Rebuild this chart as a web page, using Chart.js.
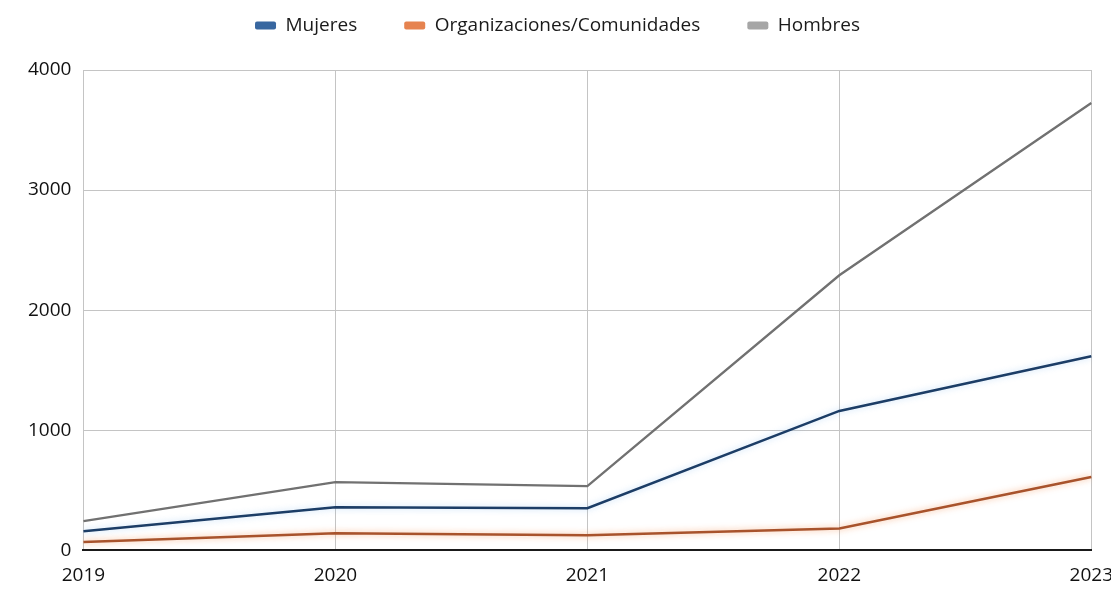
<!DOCTYPE html>
<html>
<head>
<meta charset="utf-8">
<script src="https://cdn.jsdelivr.net/npm/chart.js@4"></script>
<style>
  html, body { margin: 0; padding: 0; background: #fff; overflow: hidden; }
  #wrap { width: 1127px; height: 610px; }
</style>
</head>
<body>
<div id="wrap"><canvas id="lineChart"></canvas></div>
<script>
const years = ["2019", "2020", "2021", "2022", "2023"];
const mujeres = [158, 358, 350, 1160, 1615];
const organizaciones = [68, 142, 125, 180, 610];
const hombres = [243, 567, 533, 2290, 3725];
const yTicks = [0, 1000, 2000, 3000, 4000];

// soft halo under a line, colour per dataset
const lineGlow = {
  id: "lineGlow",
  beforeDatasetDraw(chart, args) {
    const glow = chart.data.datasets[args.index].glow;
    if (!glow) return;
    const ctx = chart.ctx;
    ctx.save();
    ctx.shadowColor = glow;
    ctx.shadowBlur = 6;
  },
  afterDatasetDraw(chart, args) {
    if (chart.data.datasets[args.index].glow) chart.ctx.restore();
  },
};

// extra room between the legend and the plot
const legendGap = {
  id: "legendGap",
  beforeInit(chart) {
    const fit = chart.legend.fit;
    chart.legend.fit = function () {
      fit.bind(chart.legend)();
      this.height += 25;
    };
  },
};

const ctx = document.getElementById("lineChart").getContext("2d");
new Chart(ctx, {
  type: "line",
  data: {
    labels: years,
    datasets: [
      {
        label: "Mujeres",
        data: mujeres,
        borderColor: "#1c3d66",
        backgroundColor: "#3867a0",
        borderWidth: 2.5,
        glow: "rgba(120, 180, 240, 0.45)",
      },
      {
        label: "Organizaciones/Comunidades",
        data: organizaciones,
        borderColor: "#a8532c",
        backgroundColor: "#e6834f",
        borderWidth: 2.5,
        glow: "rgba(245, 150, 90, 0.7)",
      },
      {
        label: "Hombres",
        data: hombres,
        borderColor: "#717171",
        backgroundColor: "#a6a6a6",
        borderWidth: 2.3,
      },
    ],
  },
  options: {
    responsive: true,
    maintainAspectRatio: false,
    animation: false,
    layout: { padding: { left: 16, top: -31, bottom: 9, right: 28 } },
    elements: {
      point: { radius: 0 },
      line: { tension: 0 },
    },
    plugins: {
      tooltip: { enabled: false },
      legend: {
        position: "top",
        labels: {
          boxWidth: 21,
          boxHeight: 8,
          padding: 47,
          useBorderRadius: true,
          borderRadius: 2,
          color: "#1a1a1a",
          font: { family: "Open Sans", size: 19 },
          generateLabels(chart) {
            return Chart.defaults.plugins.legend.labels
              .generateLabels(chart)
              .map((l) => ({ ...l, strokeStyle: l.fillStyle, lineWidth: 0 }));
          },
        },
      },
    },
    scales: {
      x: {
        offset: false,
        grid: { color: "#c4c4c4", drawTicks: false },
        border: { color: "#1a1a1a", width: 2 },
        ticks: {
          color: "#111",
          padding: 14,
          maxRotation: 0,
          font: { family: "Open Sans", size: 19 },
        },
      },
      y: {
        min: 0,
        max: 4000,
        afterBuildTicks(axis) {
          axis.ticks = yTicks.map((v) => ({ value: v }));
        },
        grid: { color: "#c4c4c4", drawTicks: false },
        border: { display: false },
        ticks: {
          color: "#111",
          padding: 12,
          font: { family: "Open Sans", size: 19 },
          callback: (v) => String(v),
        },
      },
    },
  },
  plugins: [lineGlow, legendGap],
});
</script>
</body>
</html>
